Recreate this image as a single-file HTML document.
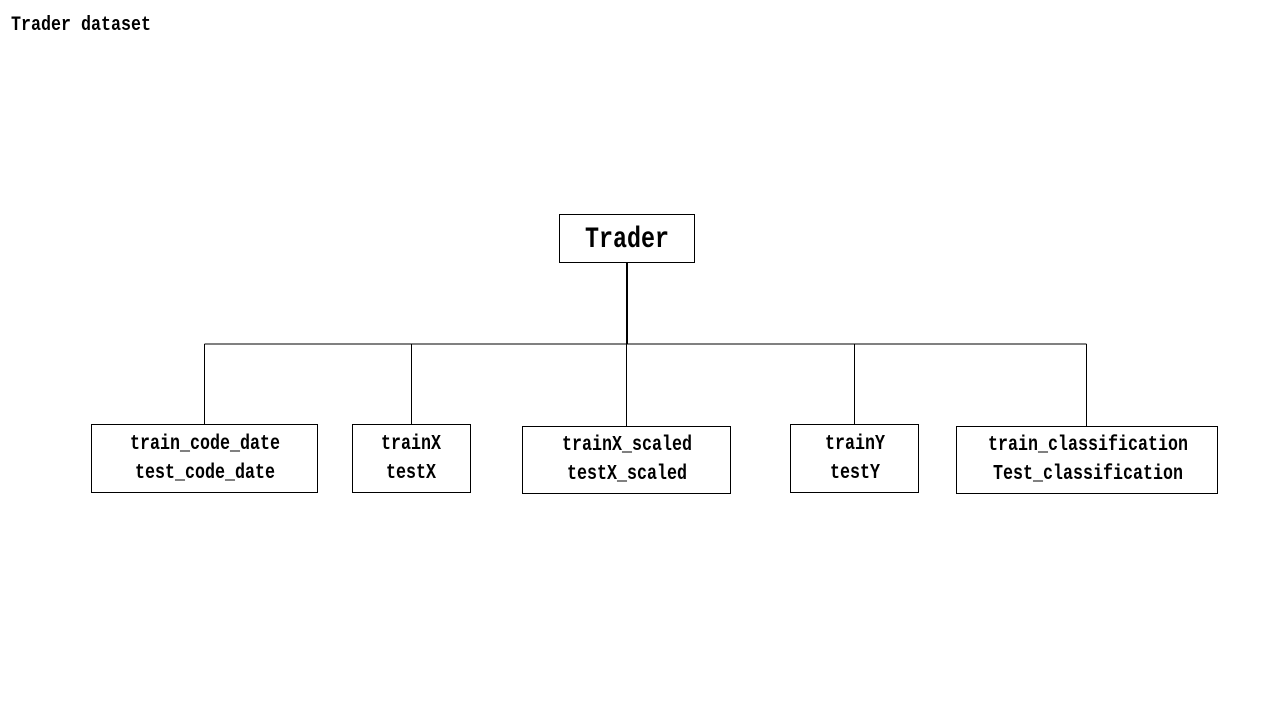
<!DOCTYPE html>
<html><head><style>body{margin:0;background:#fff}svg{display:block}text{font-family:"Liberation Mono","NanumGothic",monospace;fill:#000;font-weight:bold}</style></head>
<body>
<svg width="1280" height="720" viewBox="0 0 1280 720">
<text x="11" y="30" font-size="20" textLength="140" lengthAdjust="spacingAndGlyphs">Trader dataset</text>
<g fill="none" stroke="#000" stroke-width="1">
<rect x="559.5" y="214.5" width="135" height="48"/>
<rect x="91.5" y="424.5" width="226" height="68"/>
<rect x="352.5" y="424.5" width="118" height="68"/>
<rect x="522.5" y="426.5" width="208" height="67"/>
<rect x="790.5" y="424.5" width="128" height="68"/>
<rect x="956.5" y="426.5" width="261" height="67"/>
<path d="M627 262V344" stroke-width="2"/>
<path d="M204.5 344H1086.5M204.5 344V424M411.5 344V424M626.5 344V426M854.5 344V424M1086.5 344V426"/>
</g>
<g font-size="21" text-anchor="middle">
<text x="627" y="247" font-size="30" textLength="84" lengthAdjust="spacingAndGlyphs">Trader</text>
<text x="205" y="449" textLength="150" lengthAdjust="spacingAndGlyphs">train_code_date</text>
<text x="205" y="478" textLength="140" lengthAdjust="spacingAndGlyphs">test_code_date</text>
<text x="411" y="449" textLength="60" lengthAdjust="spacingAndGlyphs">trainX</text>
<text x="411" y="478" textLength="50" lengthAdjust="spacingAndGlyphs">testX</text>
<text x="627" y="450" textLength="130" lengthAdjust="spacingAndGlyphs">trainX_scaled</text>
<text x="627" y="479" textLength="120" lengthAdjust="spacingAndGlyphs">testX_scaled</text>
<text x="855" y="449" textLength="60" lengthAdjust="spacingAndGlyphs">trainY</text>
<text x="855" y="478" textLength="50" lengthAdjust="spacingAndGlyphs">testY</text>
<text x="1088" y="450" textLength="200" lengthAdjust="spacingAndGlyphs">train_classification</text>
<text x="1088" y="479" textLength="190" lengthAdjust="spacingAndGlyphs">Test_classification</text>
</g>
</svg>
</body></html>
